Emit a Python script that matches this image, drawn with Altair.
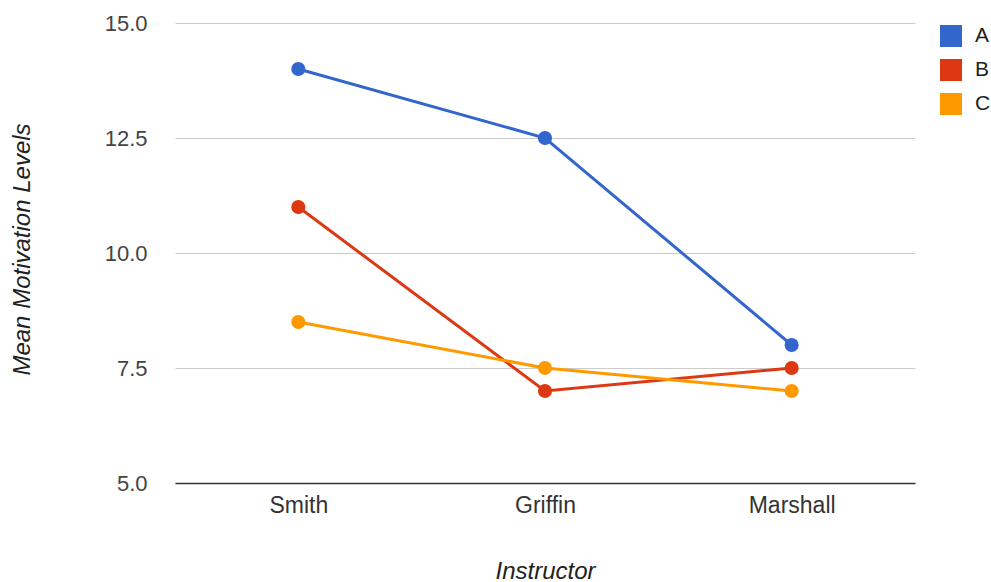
import altair as alt
import pandas as pd

instructors = ["Smith", "Griffin", "Marshall"]
groups = ["A", "B", "C"]
values_a = [14.0, 12.5, 8.0]
values_b = [11.0, 7.0, 7.5]
values_c = [8.5, 7.5, 7.0]
colors = ["#3366CC", "#DC3912", "#FF9900"]

rows = []
for g, vals in zip(groups, [values_a, values_b, values_c]):
    for inst, v in zip(instructors, vals):
        rows.append({"Instructor": inst, "Group": g, "Value": v})
df = pd.DataFrame(rows)

FONT = "Liberation Sans"

x = alt.X(
    "Instructor:N",
    sort=instructors,
    scale=alt.Scale(paddingInner=0, paddingOuter=0),
    axis=alt.Axis(
        title="Instructor",
        titleFont=FONT,
        titleFontStyle="italic",
        titleFontWeight="normal",
        titleFontSize=24,
        titleColor="#222222",
        titleX=370,
        titleY=88,
        titleBaseline="middle",
        titleAlign="center",
        labelFont=FONT,
        labelAngle=0,
        labelFontSize=23,
        labelColor="#333333",
        labelPadding=11,
        ticks=False,
        domainColor="#333333",
        domainWidth=1.5,
        grid=False,
    ),
)
y = alt.Y(
    "Value:Q",
    scale=alt.Scale(domain=[5, 15], nice=False, zero=False),
    axis=alt.Axis(
        title="Mean Motivation Levels",
        titleFont=FONT,
        titleFontStyle="italic",
        titleFontWeight="normal",
        titleFontSize=24,
        titleColor="#222222",
        titleX=-153,
        titleY=226,
        titleAngle=270,
        titleBaseline="middle",
        titleAlign="center",
        values=[5, 7.5, 10, 12.5, 15],
        format=".1f",
        labelFont=FONT,
        labelFontSize=22,
        labelColor="#444444",
        labelPadding=28,
        ticks=False,
        domain=False,
        gridColor="#CCCCCC",
        gridWidth=1,
    ),
)
color = alt.Color(
    "Group:N",
    scale=alt.Scale(domain=groups, range=colors),
    legend=alt.Legend(
        title=None,
        orient="none",
        legendX=765,
        legendY=2,
        symbolType="square",
        symbolSize=484,
        symbolStrokeWidth=0,
        labelFontSize=21,
        labelColor="#222222",
        labelFont=FONT,
        rowPadding=12,
        labelOffset=13,
    ),
)

base = alt.Chart(df).encode(x=x, y=y, color=color)
lines = base.mark_line(strokeWidth=3).encode(detail="Group:N")
points = base.mark_circle(size=200, opacity=1)

chart = (
    alt.layer(lines, points)
    .properties(
        width=740,
        height=460,
        autosize=alt.AutoSizeParams(type="none"),
        padding={"left": 175, "top": 23, "right": 76, "bottom": 99},
        background="white",
    )
    .configure_view(strokeWidth=0, stroke="transparent")
)

chart.save("out.html", embed_options={"renderer": "svg", "actions": False})
